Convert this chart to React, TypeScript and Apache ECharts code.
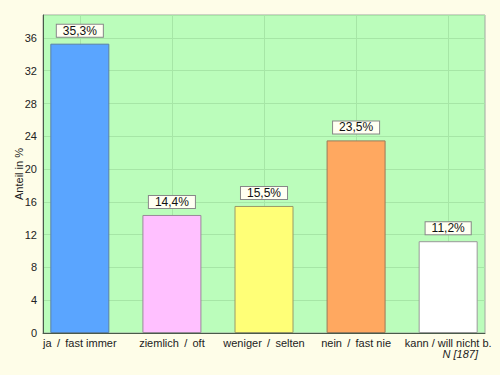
import React, { useEffect, useRef } from "react";
import * as echarts from "echarts";

const categories = ["ja \u2009/\u2009 fast immer", "ziemlich \u2009/\u2009 oft", "weniger \u2009/\u2009 selten", "nein \u2009/\u2009 fast nie", "kann / will nicht b."];
const values = [35.3, 14.4, 15.5, 23.5, 11.2];
const barColors = ["#5AA5FF", "#FFC0FF", "#FFFF77", "#FFA860", "#FFFFFF"];
const barBorders = ["#5A7FA8", "#9A8A9A", "#9A9A66", "#9A7A5A", "#999999"];
const positions = [0, 1, 2, 3, 4];

export default function App() {
  const ref = useRef<HTMLDivElement>(null);
  useEffect(() => {
    if (!ref.current) return;
    const chart = echarts.init(ref.current, undefined, { renderer: "svg" });
    const font = "Liberation Sans, Arial, sans-serif";
    chart.setOption({
      animation: false,
      backgroundColor: "#FEFDE8",
      textStyle: { fontFamily: font },
      grid: {
        left: 43,
        right: 15,
        top: 15,
        bottom: 42,
        containLabel: false,
        outerBoundsMode: "none",
        show: true,
        backgroundColor: "#BBFDBB",
        borderColor: "#A0A8A0",
        borderWidth: 1,
      },
      xAxis: {
        type: "value",
        min: -0.4,
        max: 4.4,
        axisLine: { show: true, onZero: false, lineStyle: { color: "#4A5A4A", width: 1 } },
        axisTick: { show: false, customValues: positions },
        splitLine: { show: true, lineStyle: { color: "#A6E6A6", width: 1 } },
        axisLabel: {
          customValues: positions,
          formatter: (v: number) => categories[Math.round(v)] ?? "",
          color: "#222",
          fontSize: 11,
          margin: 4,
          fontFamily: font,
        },
      },
      yAxis: {
        type: "value",
        min: 0,
        max: 38.8,
        interval: 4,
        name: "Anteil in %",
        nameLocation: "middle",
        nameGap: 19,
        nameMoveOverlap: false,
        nameTextStyle: { color: "#222", fontSize: 11, fontFamily: font },
        axisLine: { show: true, onZero: false, lineStyle: { color: "#4A5A4A", width: 1 } },
        axisTick: { show: false },
        splitLine: { show: true, lineStyle: { color: "#A6E6A6", width: 1 } },
        axisLabel: { showMaxLabel: false, color: "#222", fontSize: 11, margin: 6, fontFamily: font },
      },
      graphic: [
        {
          type: "text",
          right: 22,
          top: 348,
          style: { text: "N [187]", fill: "#222", font: "italic 11px " + font },
        },
      ],
      series: [
        {
          type: "bar",
          barWidth: 59,
          data: positions.map((p, i) => ({
            value: [p, values[i]],
            itemStyle: { color: barColors[i], borderColor: barBorders[i], borderWidth: 1 },
          })),
          label: {
            show: true,
            position: "top",
            distance: 7,
            formatter: (p: any) => values[p.dataIndex].toFixed(1).replace(".", ",") + "%",
            color: "#111",
            fontSize: 12,
            fontFamily: font,
            backgroundColor: "#FFFFF2",
            borderColor: "#888",
            borderWidth: 1,
            padding: [0, 6, 0, 6],
            lineHeight: 12,
          },
        },
      ],
    });
    return () => chart.dispose();
  }, []);
  return <div ref={ref} style={{ width: 500, height: 375, position: "absolute", left: 0, top: 0 }} />;
}
